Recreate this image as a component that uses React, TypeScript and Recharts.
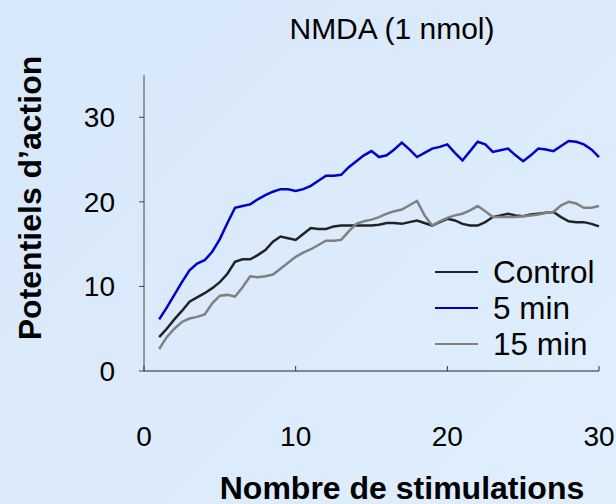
import { Line, LineChart, XAxis, YAxis } from 'recharts';

const stimulations = [
  1, 1.5, 2, 2.5, 3, 3.5, 4, 4.5, 5, 5.5, 6, 6.5, 7, 7.5, 8, 8.5, 9, 9.5, 10, 10.5,
  11, 11.5, 12, 12.5, 13, 13.5, 14, 14.5, 15, 15.5, 16, 16.5, 17, 17.5, 18, 18.5, 19, 19.5, 20, 20.5,
  21, 21.5, 22, 22.5, 23, 23.5, 24, 24.5, 25, 25.5, 26, 26.5, 27, 27.5, 28, 28.5, 29, 29.5, 30,
];

const controlValues = [
  4.0, 5.0, 6.1, 7.1, 8.2, 8.7, 9.2, 9.8, 10.5, 11.5, 12.9, 13.2, 13.2, 13.7, 14.3, 15.3, 15.9, 15.7, 15.5, 16.2,
  16.9, 16.8, 16.8, 17.1, 17.2, 17.2, 17.2, 17.2, 17.2, 17.3, 17.5, 17.5, 17.4, 17.6, 17.8, 17.5, 17.2, 17.6, 18.0, 17.8,
  17.4, 17.2, 17.2, 17.6, 18.2, 18.4, 18.6, 18.4, 18.3, 18.5, 18.6, 18.7, 18.8, 18.2, 17.7, 17.6, 17.6, 17.4, 17.1,
];

const fiveMinValues = [
  6.1, 7.5, 9.0, 10.5, 11.9, 12.7, 13.1, 14.1, 15.6, 17.5, 19.3, 19.5, 19.7, 20.3, 20.8, 21.2, 21.5, 21.5, 21.3, 21.5,
  21.9, 22.5, 23.1, 23.1, 23.2, 24.1, 24.8, 25.5, 26.0, 25.3, 25.5, 26.2, 27.0, 26.2, 25.3, 25.8, 26.3, 26.5, 26.8, 25.8,
  24.9, 26.0, 27.1, 26.8, 25.9, 26.1, 26.3, 25.5, 24.8, 25.5, 26.3, 26.2, 26.0, 26.6, 27.2, 27.1, 26.8, 26.2, 25.3,
];

const fifteenMinValues = [
  2.6, 4.0, 5.0, 5.8, 6.2, 6.4, 6.7, 8.0, 8.9, 9.0, 8.8, 9.9, 11.2, 11.1, 11.2, 11.4, 12.1, 12.8, 13.5, 14.0,
  14.4, 14.9, 15.4, 15.4, 15.5, 16.5, 17.4, 17.7, 17.9, 18.2, 18.6, 18.9, 19.1, 19.6, 20.1, 18.4, 17.2, 17.7, 18.1, 18.4,
  18.6, 19.0, 19.5, 18.9, 18.2, 18.2, 18.2, 18.2, 18.3, 18.4, 18.5, 18.7, 18.8, 19.6, 20.0, 19.8, 19.3, 19.3, 19.5,
];

const xTicks = [0, 10, 20, 30];
const yTicks = [0, 10, 20, 30];

const seriesInfo = [
  { key: 'control', name: 'Control', color: '#222222' },
  { key: 'five', name: '5 min', color: '#0000cc' },
  { key: 'fifteen', name: '15 min', color: '#808080' },
];

const data = stimulations.map((x, i) => ({
  x,
  control: controlValues[i],
  five: fiveMinValues[i],
  fifteen: fifteenMinValues[i],
}));

const font = '"Liberation Sans", Arial, sans-serif';

function XTick({ x, y, payload }: any) {
  return (
    <g>
      <line x1={x} x2={x} y1={y} y2={y - 5} stroke="#333" strokeWidth={1} />
      <text x={x} y={y + 75} textAnchor="middle" fontSize={28} fill="#000" fontFamily={font}>
        {payload.value}
      </text>
    </g>
  );
}

export default function App() {
  return (
    <div
      style={{
        position: 'absolute',
        left: 0,
        top: 0,
        width: 616,
        height: 504,
        background: 'linear-gradient(135deg, #d7e8fb 0%, #e0eefc 100%)',
        fontFamily: font,
      }}
    >
      <div style={{ position: 'absolute', left: 0, width: 784, top: 12, textAlign: 'center', fontSize: 30, color: '#000' }}>
        NMDA (1 nmol)
      </div>
      <div
        style={{
          position: 'absolute',
          left: 30,
          top: 198,
          transform: 'translate(-50%, -50%) rotate(-90deg)',
          whiteSpace: 'nowrap',
          fontSize: 32,
          fontWeight: 'bold',
          color: '#000',
        }}
      >
        Potentiels d’action
      </div>
      <div
        style={{
          position: 'absolute',
          left: 402,
          top: 488,
          transform: 'translate(-50%, -50%)',
          whiteSpace: 'nowrap',
          fontSize: 32,
          fontWeight: 'bold',
          color: '#000',
        }}
      >
        Nombre de stimulations
      </div>
      <div
        style={{
          position: 'absolute',
          left: 435,
          top: 254,
          fontSize: 31.5,
          color: '#000',
          lineHeight: '36px',
          zIndex: 1,
        }}
      >
        {seriesInfo.map((s) => (
          <div key={s.key} style={{ display: 'flex', alignItems: 'center' }}>
            <span style={{ display: 'inline-block', width: 43, height: 2, background: s.color, marginRight: 15 }} />
            <span>{s.name}</span>
          </div>
        ))}
      </div>
      <LineChart width={616} height={504} data={data} margin={{ top: 75, right: 17, left: 44, bottom: 33 }}>
        <XAxis
          dataKey="x"
          type="number"
          domain={[0, 30]}
          ticks={xTicks}
          tickSize={0}
          tickMargin={0}
          tickLine={false}
          tick={<XTick />}
          height={100}
          stroke="#222"
          interval={0}
        />
        <YAxis
          type="number"
          domain={[0, 35]}
          ticks={yTicks}
          width={100}
          tickSize={5}
          tickMargin={24}
          stroke="#444"
          tick={{ fontSize: 28, fill: '#000', fontFamily: font }}
          interval={0}
        />
        {seriesInfo.map((s) => (
          <Line
            key={s.key}
            dataKey={s.key}
            name={s.name}
            stroke={s.color}
            strokeWidth={2.5}
            dot={false}
            type="linear"
            isAnimationActive={false}
          />
        ))}
      </LineChart>
    </div>
  );
}
